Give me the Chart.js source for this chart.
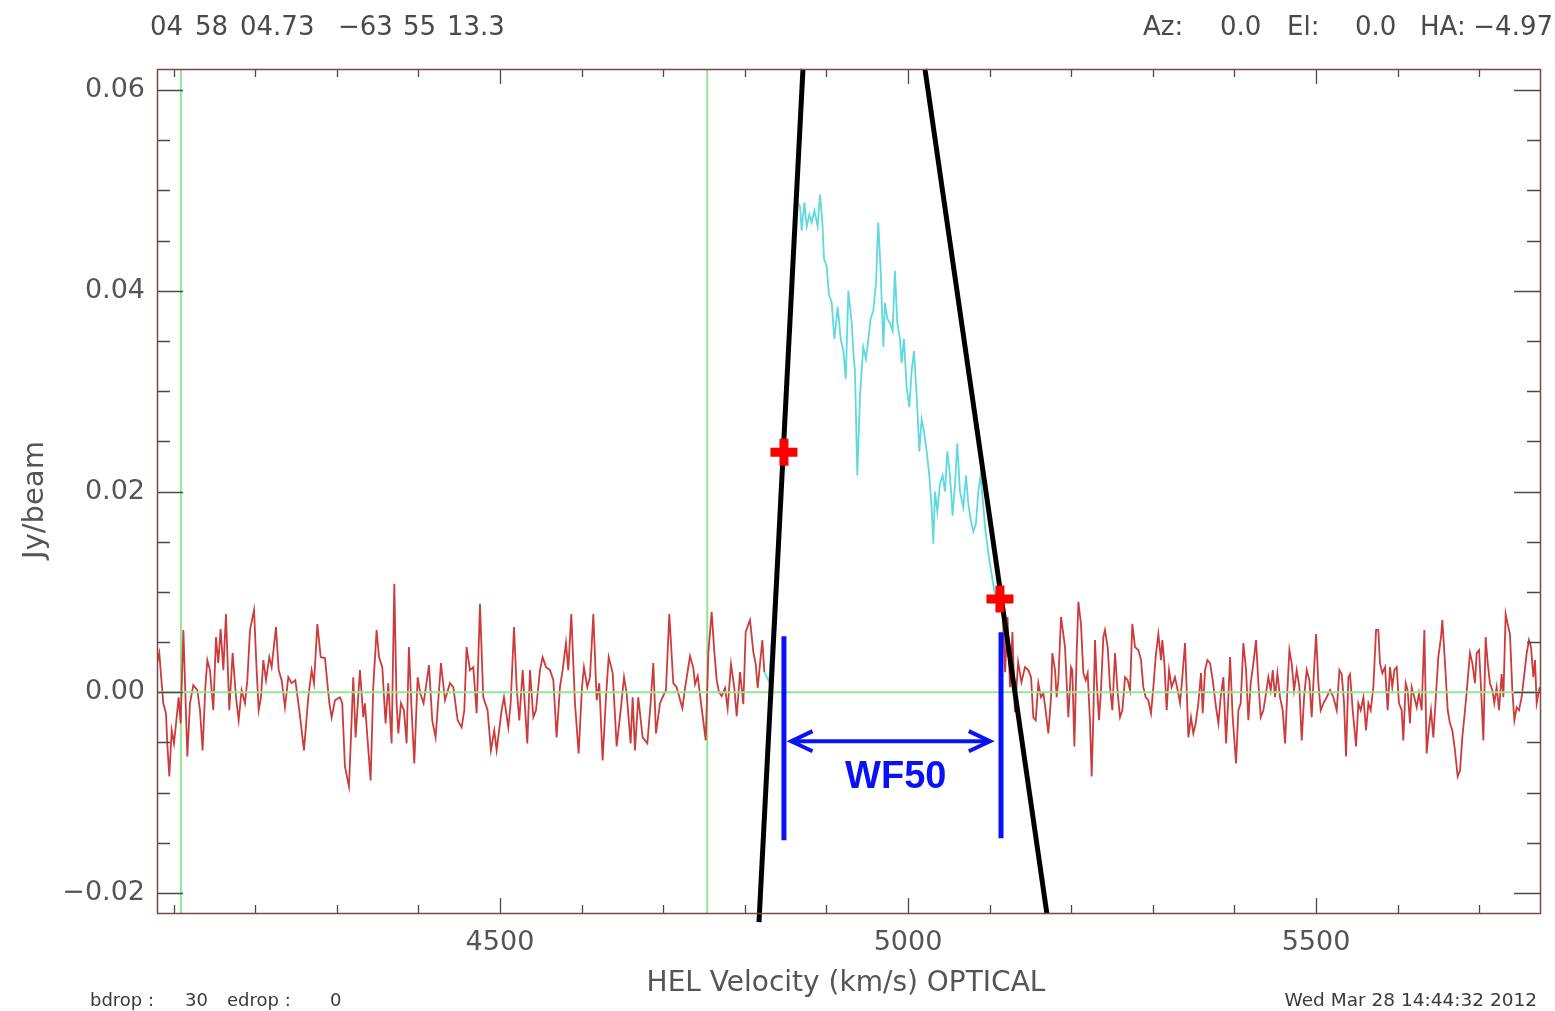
<!DOCTYPE html>
<html>
<head>
<meta charset="utf-8">
<script src="https://cdn.jsdelivr.net/npm/chart.js@4.4.1/dist/chart.umd.min.js"></script>
<style>
html,body{margin:0;padding:0;background:#fff;}
#wrap{width:1555px;height:1011px;position:relative;}
</style>
</head>
<body>
<div id="wrap"><canvas id="c" width="1555" height="1011"></canvas></div>
<script>
// ---------------- data (HEL velocity in km/s, flux density in mJy/beam) ----------------
const velocity = [
  4080, 4082.5, 4087.4, 4090.7, 4092.3, 4094.8, 4097.7, 4100.5, 4103.8, 4106.2, 4108.7,
  4112.0, 4116.9, 4120.1, 4124.2, 4129.1, 4132.4, 4135.6, 4138.9, 4141.4, 4144.6,
  4148.7, 4152.0, 4154.8, 4157.7, 4161.0, 4164.2, 4168.3, 4172.4, 4176.5, 4179.8,
  4183.4, 4187.5, 4190.4, 4193.7, 4198.6, 4201.8, 4204.3, 4207.1, 4210.0, 4213.3,
  4217.3, 4220.2, 4225.5, 4228.8, 4232.5, 4236.5, 4240.6, 4244.7, 4249.2, 4254.1,
  4259.8, 4265.1, 4269.2, 4272.1, 4276.2, 4280.3, 4285.5, 4290.9,
  4293.7, 4297.8, 4303.9, 4306.7, 4310.0, 4314.9, 4317.4, 4320.2, 4323.1, 4328.4,
  4332.5, 4334.5, 4337.8, 4341.5, 4344.7, 4348.8, 4351.7, 4355.8, 4359.8, 4363.1,
  4367.2, 4370.5, 4373.3, 4375.4, 4378.6, 4382.3, 4385.6, 4388.4, 4391.7, 4395.0,
  4399.1, 4402.3, 4406.4, 4413.0, 4417.0, 4421.1, 4427.7, 4432.6, 4438.7, 4442.8,
  4448.1, 4453.0, 4456.3, 4459.1, 4463.2, 4467.3, 4471.4, 4475.5, 4479.5, 4484.8,
  4488.9, 4493.0, 4495.9, 4502.0,
  4504.9, 4510.2, 4513.1, 4517.2, 4520.4, 4523.7, 4527.8, 4533.5, 4536.8, 4540.9,
  4544.1, 4549.0, 4552.3, 4556.4, 4561.3, 4565.4, 4569.4, 4573.5, 4576.8, 4580.9,
  4583.7, 4587.4, 4591.9, 4596.4, 4600.5, 4602.9, 4607.0, 4610.3, 4614.4, 4618.5,
  4621.7, 4625.8, 4629.9, 4633.2, 4638.1, 4643.0, 4647.9, 4652.0, 4655.2, 4660.1,
  4662.6, 4665.4, 4669.5, 4674.8, 4680.6, 4684.6, 4687.9, 4691.2, 4696.1, 4699.3,
  4703.4, 4707.5, 4712.4, 4716.5,
  4723.5, 4726.8, 4732.9, 4737.0, 4739.0, 4742.3, 4747.2, 4752.1, 4755.4, 4759.4,
  4762.7, 4765.6, 4768.4, 4771.7, 4775.8, 4779.0, 4783.1, 4787.2, 4790.1, 4794.2,
  4798.2, 4801.1, 4806.4, 4810.5, 4813.4, 4815.8, 4821.5, 4824.0,
  4830, 4838, 4846, 4852, 4858, 4863,
  4867.7, 4869.7, 4873.0, 4875.9, 4879.1, 4882.0, 4885.3, 4889.3, 4892.2, 4895.1,
  4897.1, 4900.4, 4903.2, 4906.5, 4909.8, 4913.9, 4917.5, 4920.8, 4923.7, 4926.9, 4931.0,
  4933.0, 4935.0, 4937.9, 4941.2, 4945.2, 4948.5, 4951.4, 4954.2, 4957.5, 4960.8,
  4963.6, 4966.5, 4969.8, 4971.8, 4974.7, 4977.9, 4981.2, 4984.0, 4986.9, 4990.2,
  4992.2, 4995.1, 4998.3, 5001.6, 5004.5, 5007.3, 5010.6, 5013.9, 5016.7, 5019.6,
  5022.9, 5026.1, 5029.0, 5031.0, 5033.1, 5035.9, 5039.2, 5042.5, 5045.3, 5048.2,
  5051.4, 5054.7, 5057.6, 5060.4, 5063.7, 5067.8, 5071.1, 5073.9, 5076.8, 5080.1,
  5083.3, 5086.2, 5089.0,
  5095, 5100, 5106, 5112,
  5116, 5119, 5122, 5125, 5128, 5131, 5135, 5139,
  5143.4, 5147.5, 5150.8, 5153.6, 5156.5, 5159.7, 5163.0, 5165.9, 5168.7, 5172.0,
  5175.3, 5176.9, 5180.2, 5182.2, 5184.3, 5187.5, 5189.2, 5192.4, 5196.5, 5199.8,
  5201.4, 5203.9, 5206.7, 5208.8, 5212.0, 5214.9, 5217.8, 5220.2, 5223.1, 5225.1,
  5227.1, 5229.2, 5231.2, 5234.1, 5236.5, 5239.4, 5241.4, 5244.7, 5247.6, 5250.4,
  5253.7, 5257.0, 5259.8, 5262.7, 5266.0, 5269.2, 5272.1, 5274.9, 5278.2, 5282.3,
  5285.6, 5288.4, 5291.3, 5294.5, 5297.8, 5300.7, 5303.5, 5306.8, 5310.1, 5311.7,
  5314.2, 5317.0, 5319.9, 5323.1, 5327.2, 5330.5, 5333.4, 5336.2, 5339.5, 5343.6,
  5346.8, 5349.7, 5352.6, 5355.8, 5359.1,
  5361.2, 5364.0, 5366.9, 5370.2, 5373.4, 5377.5, 5380.4, 5383.2, 5386.5, 5389.8,
  5392.6, 5394.7, 5397.9, 5402.0, 5404.9, 5407.7, 5411.0, 5414.3, 5417.1, 5420.0,
  5423.3, 5426.5, 5429.4, 5432.3, 5435.5, 5438.8, 5441.6, 5444.5, 5447.0, 5449.8,
  5452.7, 5455.9, 5459.2, 5462.1, 5464.9, 5467.4, 5470.2, 5473.1, 5476.4, 5479.6,
  5482.5, 5485.4, 5488.6, 5491.9, 5494.7, 5497.6, 5500.1, 5502.9, 5505.8, 5509.1,
  5513.1, 5517.2, 5521.3, 5525.4, 5528.7, 5531.5, 5534.4, 5536.8, 5539.7, 5541.7,
  5545.0, 5549.1, 5551.9, 5554.8, 5558.1, 5561.3, 5564.2, 5567.0, 5570.3, 5573.6,
  5576.4, 5578.4, 5581.3, 5584.6, 5587.8, 5590.7, 5593.5, 5596.0, 5598.9, 5601.7,
  5605.0, 5607.0, 5609.9, 5612.3, 5615.2, 5617.2, 5620.5, 5623.4, 5626.2, 5629.5,
  5632.8, 5635.6, 5638.5, 5640.9, 5643.8, 5646.6, 5649.9, 5653.2, 5654.8, 5658.1,
  5661.4, 5664.2, 5667.1, 5670.3, 5673.6, 5676.5, 5679.3, 5682.6, 5685.9, 5688.7,
  5691.6, 5694.8, 5696.9, 5699.8, 5702.2, 5705.1, 5707.9, 5710.4, 5713.2, 5716.1,
  5718.5, 5721.4, 5724.3, 5727.5, 5729.6, 5732.4, 5734.9, 5737.7, 5740.6, 5743.1,
  5745.9, 5748.8, 5752.0, 5755.3, 5758.2, 5761.0, 5763.5, 5766.3, 5768.4, 5770.4, 5774
];
const fluxMilliJy = [
  3.0, 3.9, -1.1, -2.1, -5.1, -8.4, -3.8, -5.1, -2.5, -0.5, -3.1,
  6.2, -6.4, -1.1, 0.7, 0.2, -1.8, -5.8, 0.5, 3.2, 2.2,
  -1.8, 5.5, 2.9, 6.3, 2.2, 7.8, -1.8, 3.9, -0.5, -2.8,
  0.2, -1.1, 1.2, 6.2, 8.2, 2.2, -1.8, -0.5, 3.2, 1.2,
  3.5, 2.5, 6.5, 2.2, 1.2, -1.5, 1.5, 0.9, 1.2, -1.8,
  -5.8, -0.5, 2.2, 0.9, 6.8, 3.5, 3.4, -1.1,
  -2.5, -0.8, -0.5, -1.1, -7.4, -9.4, -4.5, 1.5, -4.5, 2.2,
  -2.5, -1.1, -4.8, -8.8, 0.5, 6.2, 3.5, 2.5, -3.1, 0.9,
  -5.1, 10.8, -1.1, -4.1, -1.1, -1.8, -5.1, 4.5, -1.8, -7.1,
  1.5, -0.1, -1.1, 2.7, -2.8, -4.5, 2.9, -0.8, 0.9, 0.5,
  -2.8, -3.5, -1.8, 4.5, 2.2, 2.5, -2.1, 8.8, -0.5, -1.8,
  -5.8, -3.8, -5.8, -1.8,
  -0.5, -3.5, -1.1, 6.5, 0.5, -2.8, 2.2, -5.1, 2.2, -2.5,
  -1.8, 2.2, 3.5, 2.5, 2.2, 1.2, -4.5, 0.5, 2.2, 4.9,
  2.2, 7.8, -1.1, -6.1, 0.5, 2.5, 0.5, 1.5, 7.8, -0.8,
  0.9, -6.8, -0.5, 3.5, 1.9, -5.4, -1.8, 1.5, -0.1, -5.1,
  -0.5, -5.8, -0.5, -4.5, -5.1, -1.1, 2.9, -4.1, -1.1, -0.5,
  0.2, 7.8, 0.9, 0.5,
  -1.6, 0.4, 3.6, 2.4, 0.8, 1.6, -1.6, -4.8, 4.0, 8.0,
  4.0, 1.2, 0.0, -0.4, 0.4, -1.6, 2.8, 0.4, -2.4, 2.0,
  -1.2, 6.0, 7.2, 4.0, 2.8, 0.4, 5.2, 2.0,
  1.0, 12, 22, 30, 40, 49,
  48.4, 46.0, 48.8, 46.4, 47.6, 46.8, 48.0, 46.4, 49.6, 46.8,
  43.2, 42.4, 39.6, 38.8, 35.2, 38.4, 35.2, 34.0, 31.2, 40.0, 36.8,
  34.0, 32.0, 21.6, 29.6, 34.4, 33.2, 35.2, 37.2, 38.0, 40.8,
  46.8, 42.0, 34.4, 38.8, 37.2, 36.8, 36.0, 42.0, 36.8, 35.2,
  32.8, 35.2, 30.4, 28.4, 32.0, 34.0, 29.6, 24.0, 27.2, 26.0,
  24.0, 21.6, 18.4, 14.8, 20.0, 18.0, 20.8, 21.6, 20.0, 24.0,
  21.6, 17.6, 20.8, 24.8, 20.0, 18.4, 21.6, 18.8, 17.2, 16.0,
  16.8, 20.0, 21.6,
  16, 13, 10, 8.5,
  8.0, 2.0, 7.5, 0.5, 6.0, -2.0, 3.0, 1.0,
  2.5, 2.2, 1.5, -2.5, -2.8, 0.9, -0.5, -0.1, -1.8, -4.1,
  -0.5, 3.9, 2.2, -0.5, 1.2, 7.5, 6.5, 4.5, -2.5, 2.5,
  2.2, -5.4, 3.9, 9.0, 6.8, 1.9, 1.2, 1.9, -3.1, -8.4,
  -2.5, 5.2, 1.2, -2.8, 0.2, 5.5, 6.2, 4.5, 0.5, -1.8,
  3.9, -0.1, -2.5, -1.8, 1.5, 1.2, 0.2, 6.8, 4.5, 4.2,
  3.2, 0.5, -0.5, -0.8, -2.1, 0.5, 3.5, 5.8, 3.2, 5.2,
  2.9, -1.8, 2.2, 0.5, 1.5, 0.2, -1.1, 1.5, 4.9, -4.5,
  -2.5, -4.1, -3.1, -1.1, 1.9,
  -2.1, 2.2, 3.2, 2.9, 1.2, -1.5, -3.1, -0.5, 1.5, -5.1,
  -0.5, 3.5, -2.5, -7.1, -1.8, -1.1, 4.9, 2.2, -2.8, 0.9,
  2.9, 5.2, 0.9, -2.5, -1.8, -0.1, 1.5, 0.2, 2.2, -0.5,
  1.9, -0.5, -1.8, -5.1, 0.2, 4.2, 2.9, 0.2, 2.2, 0.5,
  -4.8, -0.5, 2.2, 1.2, -2.5, 2.2, 5.8, 0.9, -1.8, -1.1,
  -0.5, 0.2, -0.5, -1.8, 2.2, 1.8, -1.1, -6.4, 1.5, 1.8,
  -1.8, -5.4, -1.1, -1.8, -0.5, -3.8, -1.1, -1.8, 0.5, 6.2,
  6.2, 2.9, 1.9, 2.5, -1.8, 2.5, 0.5, 2.2, 2.5, -1.1,
  -1.8, -4.8, 0.9, 0.2, -3.1, 0.5, -0.5, -1.5, -0.1, -1.8,
  6.2, -6.1, -3.5, -1.8, -4.5, -0.8, 3.5, 5.5, 7.2, 2.9,
  -1.8, -3.1, -3.8, -5.8, -8.4, -7.8, -4.5, -1.8, 1.2, 3.9,
  2.9, 0.9, 3.9, 4.2, 0.5, -4.8, 5.5, 2.9, 0.9, 0.2,
  -1.1, 0.5, -1.8, 1.8, -0.5, 7.8, 6.8, 5.8, 0.2, -2.8,
  -1.5, -1.8, -0.5, 1.8, 3.9, 5.2, 4.5, 1.5, 3.2, -1.1, 0.5
];
const signalRange = [4824, 5113];          // velocity window drawn in cyan (km/s)
const xRange = [4079.7, 5774.5];           // km/s
const yRange = [-0.0220, 0.0621];          // Jy/beam
const greenVelocities = [4109, 4754];      // vertical baseline-window markers (km/s)
const xTickPositions = [4100, 4200, 4300, 4400, 4500, 4600, 4700, 4800, 4900, 5000,
                        5100, 5200, 5300, 5400, 5500, 5600, 5700];
const xTickValues = [4500, 5000, 5500];
const xTickLabels = ['4500', '5000', '5500'];
const yTickPositions = [-0.020, -0.015, -0.010, -0.005, 0.000, 0.005, 0.010, 0.015, 0.020,
                        0.025, 0.030, 0.035, 0.040, 0.045, 0.050, 0.055, 0.060];
const yTickValues = [-0.02, 0.00, 0.02, 0.04, 0.06];
const yTickLabels = ['\u22120.02', '0.00', '0.02', '0.04', '0.06'];
// annotation geometry, in data units (km/s, Jy/beam)
const edgeLineLeftX = [4817.4, 4871.3];
const edgeLineLeftY = [-0.0229, 0.0621];
const edgeLineRightX = [5020.8, 5170.3];
const edgeLineRightY = [0.0621, -0.0221];
const halfPeakX = [4848.0, 5112.7];
const halfPeakY = [0.0239, 0.0093];
const wfBarX = [4848.0, 5114.0];
const wfBarTop = [0.00558, 0.00598];
const wfBarBottom = [-0.01475, -0.01455];
const arrowX = [4857, 5100.5];
const arrowY = -0.00488;
const arrowHeadDX = 26;       // km/s
const arrowHeadDY = 0.0010;   // Jy/beam
const wfLabel = 'WF50';
const wfLabelPos = [4985, -0.0085];
const headerLeft = [['04', 150], ['58', 195], ['04.73', 240], ['\u221263', 338], ['55', 403], ['13.3', 447]];
const headerRight = [['Az:', 1143], ['0.0', 1220], ['El:', 1287], ['0.0', 1355], ['HA:', 1420]];
const headerRightLast = '\u22124.97';
const footerLeft = [['bdrop :', 90], ['30', 185], ['edrop :', 227], ['0', 330]];
const footerRight = 'Wed Mar 28 14:44:32 2012';
const xTitle = 'HEL Velocity (km/s) OPTICAL';
const yTitle = 'Jy/beam';

// ---------------- build ----------------
const RED = '#cc3c3c', CYAN = '#5fd9dd', GREEN = '#93e693', BLUE = '#0a12f5';
const spectrum = velocity.map((v, i) => ({ x: v, y: fluxMilliJy[i] / 1000 }));
const seg = (xs, ys) => xs.map((x, i) => ({ x, y: ys[i] }));
const isMajor = (v, list) => list.findIndex(t => Math.abs(t - v) < 1e-7);

const datasets = [
  { label: 'crosses', data: seg(halfPeakX, halfPeakY), showLine: false,
    pointStyle: 'cross', pointRadius: 13.5, pointHoverRadius: 13.5,
    pointBorderWidth: 9, pointBorderColor: '#ff0000', borderColor: '#ff0000', order: 0, clip: false },
  { label: 'bar1', data: [{x: wfBarX[0], y: wfBarTop[0]}, {x: wfBarX[0], y: wfBarBottom[0]}],
    borderColor: BLUE, borderWidth: 5, order: 1 },
  { label: 'bar2', data: [{x: wfBarX[1], y: wfBarTop[1]}, {x: wfBarX[1], y: wfBarBottom[1]}],
    borderColor: BLUE, borderWidth: 5, order: 1 },
  { label: 'shaft', data: [{x: arrowX[0], y: arrowY}, {x: arrowX[1], y: arrowY}],
    borderColor: BLUE, borderWidth: 4, order: 1 },
  { label: 'headL', data: [{x: arrowX[0] + arrowHeadDX, y: arrowY + arrowHeadDY}, {x: arrowX[0], y: arrowY}, {x: arrowX[0] + arrowHeadDX, y: arrowY - arrowHeadDY}],
    borderColor: BLUE, borderWidth: 4, order: 1, borderJoinStyle: 'miter' },
  { label: 'headR', data: [{x: arrowX[1] - arrowHeadDX, y: arrowY + arrowHeadDY}, {x: arrowX[1], y: arrowY}, {x: arrowX[1] - arrowHeadDX, y: arrowY - arrowHeadDY}],
    borderColor: BLUE, borderWidth: 4, order: 1, borderJoinStyle: 'miter' },
  { label: 'edgeL', data: seg(edgeLineLeftX, edgeLineLeftY), borderColor: '#000', borderWidth: 5, order: 2, clip: false },
  { label: 'edgeR', data: seg(edgeLineRightX, edgeLineRightY), borderColor: '#000', borderWidth: 5, order: 2, clip: false },
  { label: 'zero', data: [{x: xRange[0], y: 0}, {x: xRange[1], y: 0}], borderColor: GREEN, borderWidth: 2, order: 3 },
  { label: 'spectrum', data: spectrum, borderWidth: 1.8, borderColor: RED, order: 4,
    segment: { borderColor: c => (c.p0.parsed.x >= signalRange[0] && c.p1.parsed.x <= signalRange[1]) ? CYAN : RED } },
  ...greenVelocities.map(v => ({ label: 'g' + v, data: [{x: v, y: yRange[0]}, {x: v, y: yRange[1]}],
    borderColor: GREEN, borderWidth: 2, order: 5 }))
];
datasets.forEach(d => { d.pointRadius = d.pointRadius || 0; d.tension = 0; d.fill = false; if (d.showLine === undefined) d.showLine = true; });

const FONT = 'DejaVu Sans';
const TEXT = '#555';

const overlay = {
  id: 'overlay',
  afterDatasetsDraw(chart) {
    const { ctx, chartArea: a, scales: { x, y } } = chart;
    ctx.save();
    // inward ticks on all four sides
    ctx.strokeStyle = '#4a4a4a';
    ctx.lineWidth = 1.3;
    ctx.beginPath();
    x.ticks.forEach(t => {
      const px = Math.round(x.getPixelForValue(t.value)) + 0.5;
      const L = isMajor(t.value, xTickValues) >= 0 ? 15 : 8;
      ctx.moveTo(px, a.bottom); ctx.lineTo(px, a.bottom - L);
      ctx.moveTo(px, a.top); ctx.lineTo(px, a.top + L);
    });
    y.ticks.forEach(t => {
      const py = Math.round(y.getPixelForValue(t.value)) + 0.5;
      const L = isMajor(t.value, yTickValues) >= 0 ? 26 : 13;
      ctx.moveTo(a.left, py); ctx.lineTo(a.left + L, py);
      ctx.moveTo(a.right, py); ctx.lineTo(a.right - L, py);
    });
    ctx.stroke();
    // frame
    ctx.strokeStyle = '#7a4646';
    ctx.lineWidth = 1.5;
    ctx.strokeRect(a.left + 0.5, a.top + 0.5, a.right - a.left, a.bottom - a.top);
    // WF50 label
    ctx.fillStyle = BLUE;
    ctx.font = 'bold 38px "Liberation Sans", "DejaVu Sans", sans-serif';
    ctx.textAlign = 'center';
    ctx.textBaseline = 'middle';
    ctx.fillText(wfLabel, x.getPixelForValue(wfLabelPos[0]), y.getPixelForValue(wfLabelPos[1]));
    ctx.restore();
  },
  afterDraw(chart) {
    const { ctx } = chart;
    ctx.save();
    ctx.fillStyle = '#4a4a4a';
    ctx.textBaseline = 'alphabetic';
    ctx.textAlign = 'left';
    ctx.font = '26px "' + FONT + '"';
    headerLeft.forEach(([s, px]) => ctx.fillText(s, px, 35));
    headerRight.forEach(([s, px]) => ctx.fillText(s, px, 35));
    ctx.textAlign = 'right';
    ctx.fillText(headerRightLast, 1553, 35);
    ctx.textAlign = 'left';
    ctx.font = '18px "' + FONT + '"';
    ctx.fillStyle = '#3a3a3a';
    footerLeft.forEach(([s, px]) => ctx.fillText(s, px, 1006));
    ctx.textAlign = 'right';
    ctx.font = '18.5px "' + FONT + '"';
    ctx.fillText(footerRight, 1537, 1006);
    // axis titles
    ctx.fillStyle = TEXT;
    ctx.font = '28px "' + FONT + '"';
    ctx.textAlign = 'center';
    ctx.fillText(xTitle, 846, 991);
    ctx.translate(43, 500);
    ctx.rotate(-Math.PI / 2);
    ctx.font = '29px "' + FONT + '"';
    ctx.fillText(yTitle, 0, 0);
    ctx.restore();
  }
};

new Chart(document.getElementById('c'), {
  type: 'scatter',
  data: { datasets },
  plugins: [overlay],
  options: {
    responsive: false,
    animation: false,
    devicePixelRatio: 1,
    layout: { autoPadding: false, padding: { top: 69, right: 15, bottom: 0, left: 0 } },
    plugins: { legend: { display: false }, tooltip: { enabled: false } },
    elements: { line: { borderCapStyle: 'butt' } },
    scales: {
      x: {
        type: 'linear', min: xRange[0], max: xRange[1],
        grid: { display: false, drawTicks: false }, border: { display: false },
        afterBuildTicks: s => { s.ticks = xTickPositions.map(v => ({ value: v })); },
        afterFit: s => { s.height = 98; s.paddingLeft = 0; s.paddingRight = 0; },
        ticks: {
          autoSkip: false, maxRotation: 0, minRotation: 0, padding: 14,
          color: TEXT, font: { family: FONT, size: 27 },
          callback: v => { const i = isMajor(v, xTickValues); return i >= 0 ? xTickLabels[i] : ''; }
        }
      },
      y: {
        type: 'linear', min: yRange[0], max: yRange[1],
        grid: { display: false, drawTicks: false }, border: { display: false },
        afterBuildTicks: s => { s.ticks = yTickPositions.map(v => ({ value: v })); },
        afterFit: s => { s.width = 157; s.paddingTop = 0; s.paddingBottom = 0; },
        ticks: {
          autoSkip: false, padding: 12,
          color: TEXT, font: { family: FONT, size: 27 },
          callback: v => { const i = isMajor(v, yTickValues); return i >= 0 ? yTickLabels[i] : ''; }
        }
      }
    }
  }
});
</script>
</body>
</html>
